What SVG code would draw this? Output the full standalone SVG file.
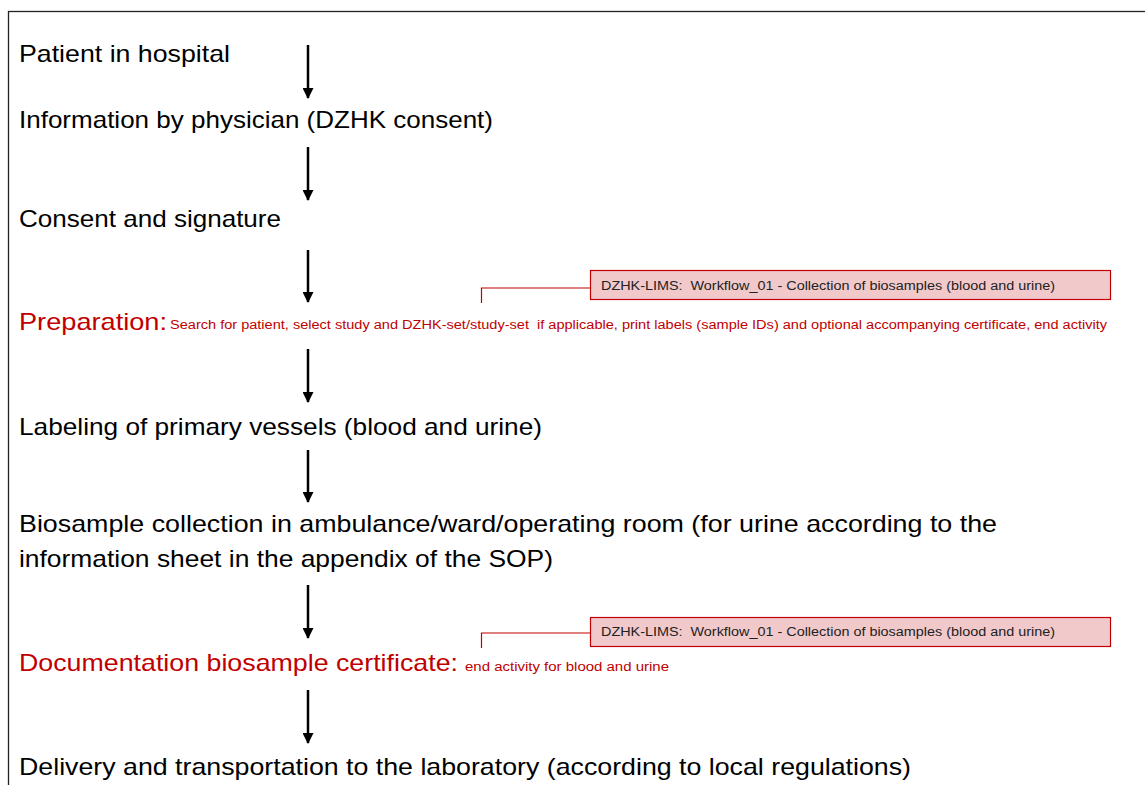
<svg xmlns="http://www.w3.org/2000/svg" width="1145" height="785" viewBox="0 0 1145 785">
<defs>
<marker id="ah" markerWidth="11" markerHeight="11" refX="10" refY="5.5" orient="auto" markerUnits="userSpaceOnUse" viewBox="0 0 11 11">
<path d="M0,0 L11,5.5 L0,11 Z" fill="#000"/>
</marker>
</defs>
<style>
.t{font-family:"Liberation Sans",Arial,sans-serif;font-size:24px;fill:#000}
.r{fill:#c00000}
.s{font-family:"Liberation Sans",Arial,sans-serif;font-size:12.5px;fill:#c00000;white-space:pre}
.c{font-family:"Liberation Sans",Arial,sans-serif;font-size:12px;fill:#222;white-space:pre}
.box{fill:#f2c9ca;stroke:#c00000;stroke-width:1.2}
.lead{fill:none;stroke:#c00000;stroke-width:1.2}
.arr{stroke:#000;stroke-width:2.5;marker-end:url(#ah)}
</style>
<rect x="0" y="0" width="1145" height="785" fill="#fff"/>
<rect x="8.5" y="11.5" width="1150" height="800" fill="none" stroke="#222" stroke-width="1.3"/>
<g id="connectors">
<line class="arr" x1="308" y1="45" x2="308" y2="98"/>
<line class="arr" x1="308" y1="147" x2="308" y2="200"/>
<line class="arr" x1="308" y1="250" x2="308" y2="302"/>
<line class="arr" x1="308" y1="349" x2="308" y2="402"/>
<line class="arr" x1="308" y1="450" x2="308" y2="502"/>
<line class="arr" x1="308" y1="585" x2="308" y2="638"/>
<line class="arr" x1="308" y1="690" x2="308" y2="743"/>
<polyline class="lead" points="590,288 481.5,288 481.5,303"/>
<polyline class="lead" points="590,633 481.5,633 481.5,648"/>
</g>
<g id="n1"><text class="t" x="19" y="62" textLength="211" lengthAdjust="spacingAndGlyphs">Patient in hospital</text></g>
<g id="n2"><text class="t" x="19" y="128" textLength="474" lengthAdjust="spacingAndGlyphs">Information by physician (DZHK consent)</text></g>
<g id="n3"><text class="t" x="19" y="227" textLength="262" lengthAdjust="spacingAndGlyphs">Consent and signature</text></g>
<g id="n4">
<text class="t r" x="19" y="330" textLength="148" lengthAdjust="spacingAndGlyphs">Preparation:</text>
<text class="s" x="170" y="329" textLength="937" lengthAdjust="spacingAndGlyphs">Search for patient, select study and DZHK-set/study-set  if applicable, print labels (sample IDs) and optional accompanying certificate, end activity</text>
</g>
<g id="c1">
<rect class="box" x="590.5" y="270.5" width="520" height="29"/>
<text class="c" x="601" y="290" textLength="454" lengthAdjust="spacingAndGlyphs">DZHK-LIMS:  Workflow_01 - Collection of biosamples (blood and urine)</text>
</g>
<g id="n5"><text class="t" x="19" y="435" textLength="523" lengthAdjust="spacingAndGlyphs">Labeling of primary vessels (blood and urine)</text></g>
<g id="n6">
<text class="t" x="19" y="532" textLength="978" lengthAdjust="spacingAndGlyphs">Biosample collection in ambulance/ward/operating room (for urine according to the</text>
<text class="t" x="19" y="567" textLength="534" lengthAdjust="spacingAndGlyphs">information sheet in the appendix of the SOP)</text>
</g>
<g id="n7">
<text class="t r" x="19" y="671" textLength="439" lengthAdjust="spacingAndGlyphs">Documentation biosample certificate:</text>
<text class="s" x="465" y="671" textLength="204" lengthAdjust="spacingAndGlyphs">end activity for blood and urine</text>
</g>
<g id="c2">
<rect class="box" x="590.5" y="617.5" width="520" height="29"/>
<text class="c" x="601" y="636" textLength="454" lengthAdjust="spacingAndGlyphs">DZHK-LIMS:  Workflow_01 - Collection of biosamples (blood and urine)</text>
</g>
<g id="n8"><text class="t" x="19" y="775" textLength="892" lengthAdjust="spacingAndGlyphs">Delivery and transportation to the laboratory (according to local regulations)</text></g>
</svg>
